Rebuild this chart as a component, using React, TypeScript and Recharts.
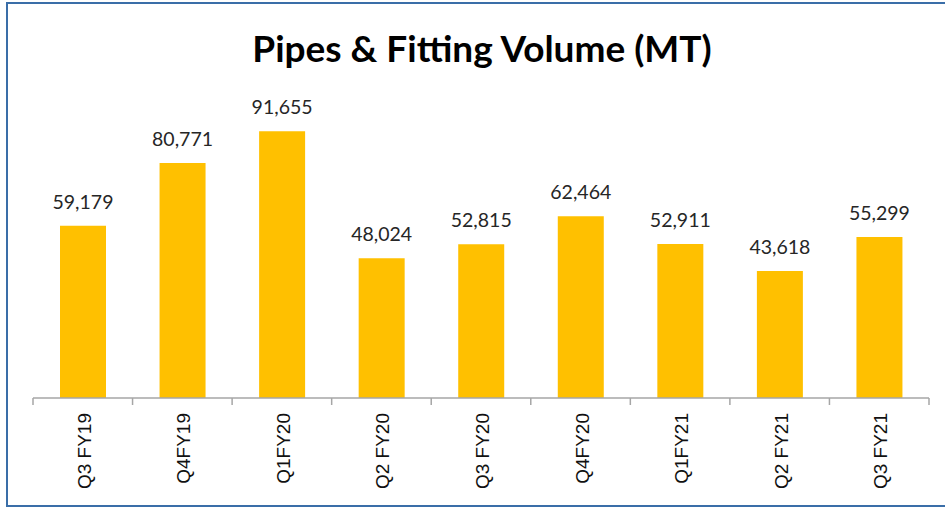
import { BarChart, Bar, XAxis, YAxis, LabelList } from 'recharts';

const quarters = ['Q3 FY19', 'Q4FY19', 'Q1FY20', 'Q2 FY20', 'Q3 FY20', 'Q4FY20', 'Q1FY21', 'Q2 FY21', 'Q3 FY21'];
const volumes = [59179, 80771, 91655, 48024, 52815, 62464, 52911, 43618, 55299];

const data = quarters.map((q, i) => ({ quarter: q, volume: volumes[i] }));

const WIDTH = 945;
const HEIGHT = 508;
const MARGIN = { top: 107, right: 16, bottom: 0, left: 33 };
const BAND = (WIDTH - MARGIN.left - MARGIN.right) / quarters.length;

function QuarterTick(props: any) {
    const { x, y, payload, index } = props;
    const left = x - BAND / 2;
    const isLast = index === quarters.length - 1;
    return (
        <g>
            <line x1={left} y1={y} x2={left} y2={y + 7} stroke="#a6a6a6" strokeWidth={1.5} />
            {isLast && (
                <line x1={x + BAND / 2} y1={y} x2={x + BAND / 2} y2={y + 7} stroke="#a6a6a6" strokeWidth={1.5} />
            )}
            <text
                x={x + 8}
                y={y + 15}
                transform={`rotate(-90, ${x + 8}, ${y + 15})`}
                textAnchor="end"
                fontFamily="'Liberation Sans', Arial, sans-serif"
                fontSize={19}
                fill="#111"
            >
                {payload.value}
            </text>
        </g>
    );
}

export default function App() {
    return (
        <div style={{ position: 'absolute', left: 0, top: 0, width: WIDTH, height: HEIGHT, overflow: 'hidden', background: '#fff' }}>
            <div
                style={{
                    position: 'absolute',
                    left: 6,
                    top: 2,
                    width: 980,
                    height: 501,
                    border: '2px solid #3a6ea8',
                }}
            />
            <div
                style={{
                    position: 'absolute',
                    left: 0,
                    width: 964,
                    top: 22,
                    textAlign: 'center',
                    fontFamily: 'Lato, sans-serif',
                    fontWeight: 700,
                    fontSize: 37,
                    lineHeight: '52px',
                    color: '#000',
                }}
            >
                Pipes &amp; Fitting Volume (MT)
            </div>
            <div style={{ position: 'absolute', left: 0, top: 0 }}>
                <BarChart width={WIDTH} height={HEIGHT} data={data} margin={MARGIN} barCategoryGap={27}>
                    <XAxis
                        dataKey="quarter"
                        interval={0}
                        height={110}
                        tickSize={0}
                        tickMargin={0}
                        tickLine={false}
                        axisLine={{ stroke: '#a6a6a6', strokeWidth: 1.5 }}
                        tick={<QuarterTick />}
                    />
                    <YAxis hide domain={[0, 100000]} />
                    <Bar dataKey="volume" fill="#ffc000" isAnimationActive={false}>
                        <LabelList
                            dataKey="volume"
                            position="top"
                            offset={17}
                            formatter={(v: any) => Number(v).toLocaleString('en-US')}
                            style={{ fontFamily: 'Lato, sans-serif', fontSize: 19.5, fill: '#262626' }}
                        />
                    </Bar>
                </BarChart>
            </div>
        </div>
    );
}
